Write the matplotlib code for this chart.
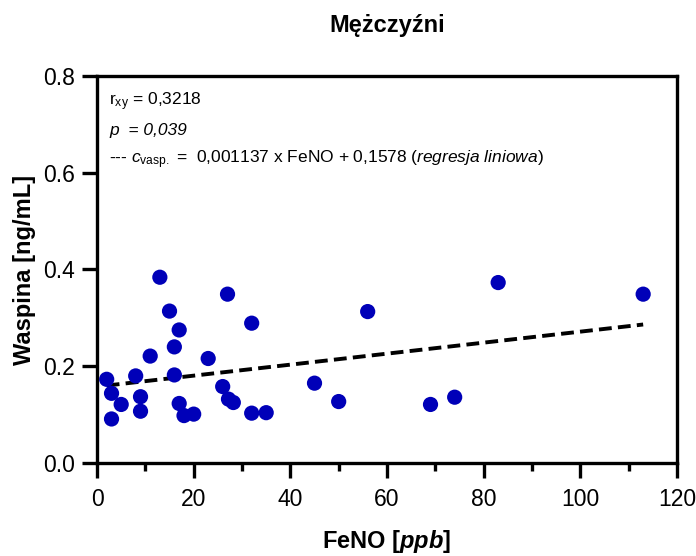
import matplotlib
matplotlib.use("Agg")
import matplotlib.pyplot as plt
import numpy as np

# FeNO [ppb] vs. vaspin [ng/mL], men
feno = [13, 15, 17, 16, 11, 23, 2, 8, 16, 3, 5, 9, 9, 3, 17, 18, 20,
        27, 26, 27.2, 28.2, 32, 35, 32, 45, 50, 56, 69, 74, 83, 113]
vaspin = [0.384, 0.314, 0.275, 0.240, 0.221, 0.216, 0.173, 0.180, 0.182,
          0.144, 0.121, 0.137, 0.107, 0.091, 0.123, 0.098, 0.101,
          0.349, 0.158, 0.132, 0.125, 0.103, 0.104, 0.289, 0.165, 0.127,
          0.313, 0.121, 0.136, 0.373, 0.349]

slope = 0.001137
intercept = 0.1578

x_ticks = [0, 20, 40, 60, 80, 100, 120]
y_ticks = [0.0, 0.2, 0.4, 0.6, 0.8]

plt.rcParams['font.family'] = ['Liberation Sans', 'DejaVu Sans']
plt.rcParams['mathtext.fontset'] = 'custom'
plt.rcParams['mathtext.rm'] = 'Liberation Sans'
plt.rcParams['mathtext.it'] = 'Liberation Sans:italic'
plt.rcParams['mathtext.bf'] = 'Liberation Sans:bold'
plt.rcParams['mathtext.bfit'] = 'Liberation Sans:italic:bold'

fig = plt.figure(figsize=(6.96, 5.56), dpi=100)
ax = fig.add_axes([0.1394, 0.1673, 0.8333, 0.6960])

ax.scatter(feno, vaspin, s=120, color='#0000b8', edgecolors='none',
           zorder=3, clip_on=False)

xl = np.array([min(feno), max(feno)])
ax.plot(xl, slope * xl + intercept, color='black', lw=2.8,
        dashes=(3.3, 1.6), zorder=2)

ax.set_xlim(0, 120)
ax.set_ylim(0, 0.8)
ax.set_xticks(x_ticks)
ax.set_xticks([10, 30, 50, 70, 90, 110], minor=True)
ax.set_yticks(y_ticks)
ax.set_xticklabels([str(v) for v in x_ticks])
ax.set_yticklabels([f"{v:.1f}" for v in y_ticks])

for sp in ax.spines.values():
    sp.set_linewidth(2.4)

ax.tick_params(axis='both', which='major', width=2.4, length=11,
               labelsize=16.5)
ax.tick_params(axis='x', which='major', pad=7)
ax.tick_params(axis='y', which='major', pad=5)
ax.tick_params(axis='x', which='minor', width=2.4, length=6)

ax.set_xlabel(r'FeNO [$\mathbfit{ppb}$]', fontsize=17,
              fontweight='bold', labelpad=12)
ax.set_ylabel('Waspina [ng/mL]', fontsize=17, fontweight='bold', labelpad=5)
fig.text(0.557, 0.955, 'Mężczyźni', fontsize=17, fontweight='bold',
         ha='center', va='center')

fs = 12.5
ax.text(0.021, 0.933, r'r$_{\mathrm{xy}}$ = 0,3218', transform=ax.transAxes,
        fontsize=fs, va='center')
ax.text(0.021, 0.858, 'p  = 0,039', transform=ax.transAxes,
        fontsize=fs, fontstyle='italic', va='center')
ax.text(0.021, 0.783,
        r'--- $\mathit{c}_{\mathrm{vasp.}}$ =  0,001137 x FeNO + 0,1578 '
        r'($\mathit{regresja\ liniowa}$)',
        transform=ax.transAxes, fontsize=fs, va='center')

fig.savefig('out.png', dpi=100)
